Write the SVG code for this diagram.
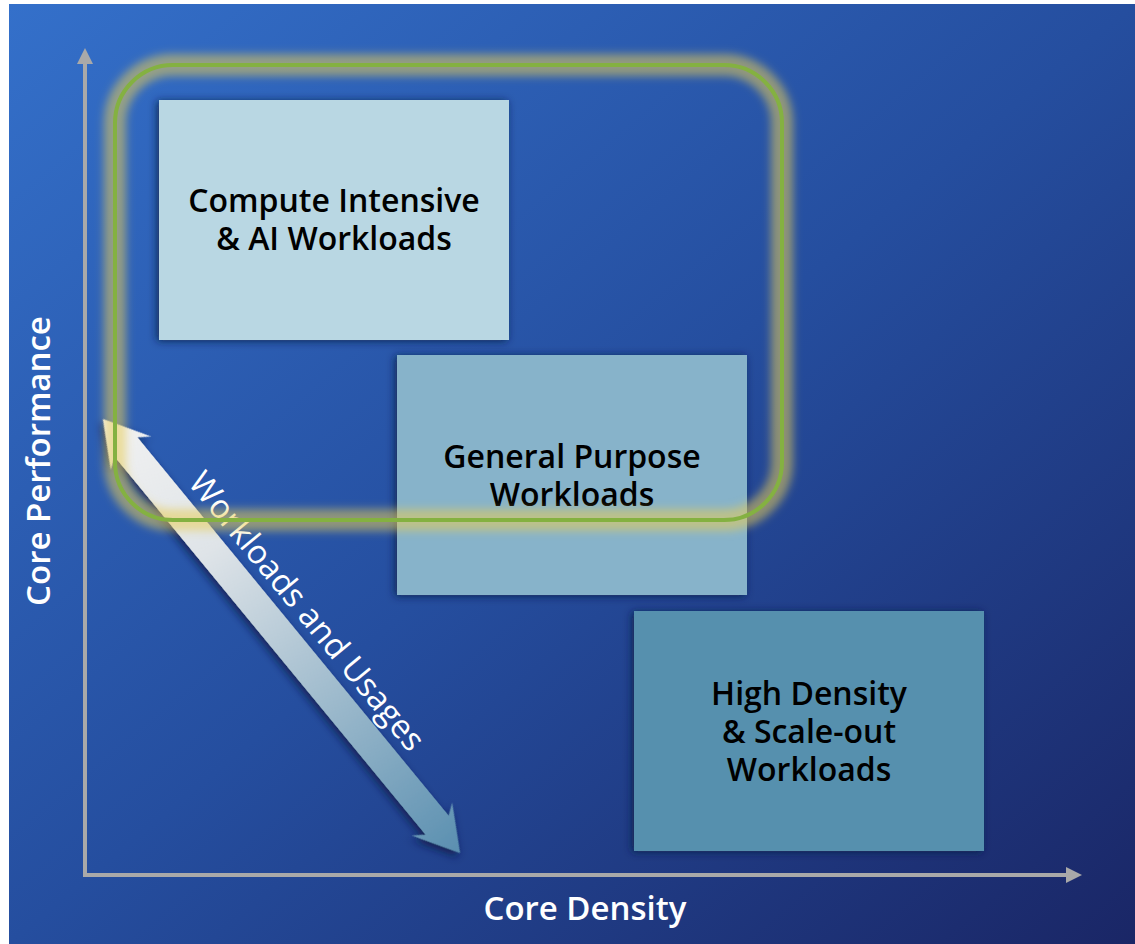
<svg xmlns="http://www.w3.org/2000/svg" width="1135" height="944" viewBox="0 0 1135 944">
<defs>
<linearGradient id="bg" x1="0" y1="0" x2="1" y2="1">
<stop offset="0" stop-color="#3470ca"/>
<stop offset="0.5" stop-color="#254e9f"/>
<stop offset="1" stop-color="#1a2666"/>
</linearGradient>
<linearGradient id="arr" gradientUnits="userSpaceOnUse" x1="0" y1="0" x2="562" y2="0">
<stop offset="0" stop-color="#f2f2f2"/>
<stop offset="0.3" stop-color="#dfe4e8"/>
<stop offset="1" stop-color="#5a8fb0"/>
</linearGradient>
<filter id="sh" x="-10%" y="-10%" width="120%" height="120%">
<feDropShadow dx="-2" dy="1" stdDeviation="4" flood-color="#0b1a45" flood-opacity="0.85"/>
</filter>
<filter id="ash" x="-10%" y="-30%" width="120%" height="160%">
<feDropShadow dx="2" dy="4" stdDeviation="4" flood-color="#0b1a45" flood-opacity="0.8"/>
</filter>
<filter id="blur" x="-10%" y="-10%" width="120%" height="120%">
<feGaussianBlur stdDeviation="4"/>
</filter>
<marker id="ax" viewBox="0 0 10 10" refX="5" refY="5" markerWidth="4" markerHeight="4" orient="auto">
<path d="M0,0 L10,5 L0,10 Z" fill="#a9a9a9"/>
</marker>
<style>
.box{filter:url(#sh)}
.lbl{font-family:"Open Sans","Liberation Sans",sans-serif;font-weight:600;font-size:32px;fill:#000;text-anchor:middle}
.ax{font-family:"Open Sans","Liberation Sans",sans-serif;font-weight:600;font-size:33px;fill:#fff;text-anchor:middle}
</style>
</defs>
<rect x="9" y="4" width="1126" height="940" fill="url(#bg)"/>
<g id="axes">
<line x1="85" y1="877" x2="85" y2="56" stroke="#a9a9a9" stroke-width="4" marker-end="url(#ax)"/>
<line x1="83" y1="875" x2="1074" y2="875" stroke="#a9a9a9" stroke-width="4" marker-end="url(#ax)"/>
<text class="ax" x="0" y="0" transform="translate(50,461) rotate(-90)">Core Performance</text>
<text class="ax" x="585" y="920">Core Density</text>
</g>
<g id="node-compute">
<rect class="box" x="159" y="100" width="350" height="240" fill="#b9d7e3"/>
<text class="lbl" x="334" y="212">Compute Intensive</text>
<text class="lbl" x="334" y="250">&amp; AI Workloads</text>
</g>
<g id="node-general">
<rect class="box" x="397" y="355" width="350" height="240" fill="#87b3ca"/>
<text class="lbl" x="572" y="468">General Purpose</text>
<text class="lbl" x="572" y="506">Workloads</text>
</g>
<g id="node-density">
<rect class="box" x="634" y="611" width="350" height="240" fill="#5790ae"/>
<text class="lbl" x="809" y="705">High Density</text>
<text class="lbl" x="809" y="743">&amp; Scale-out</text>
<text class="lbl" x="809" y="781">Workloads</text>
</g>
<g id="connectors">
<g transform="translate(103,419) rotate(50.56)">
<path d="M0,0 L44,-26 L36,-15 L526,-15 L518,-26 L562,0 L518,26 L526,15 L36,15 L44,26 Z" fill="url(#arr)" filter="url(#ash)"/>
<text x="278" y="-24" font-family="'Open Sans','Liberation Sans',sans-serif" font-weight="400" font-size="33" fill="#fff" text-anchor="middle">Workloads and Usages</text>
</g>
</g>
<g id="highlight">
<rect x="115" y="65" width="667" height="455" rx="58" ry="58" fill="none" stroke="#e8cc58" stroke-opacity="0.55" stroke-width="22" filter="url(#blur)"/>
<rect x="115" y="65" width="667" height="455" rx="58" ry="58" fill="none" stroke="#84b141" stroke-width="4"/>
</g>
</svg>
